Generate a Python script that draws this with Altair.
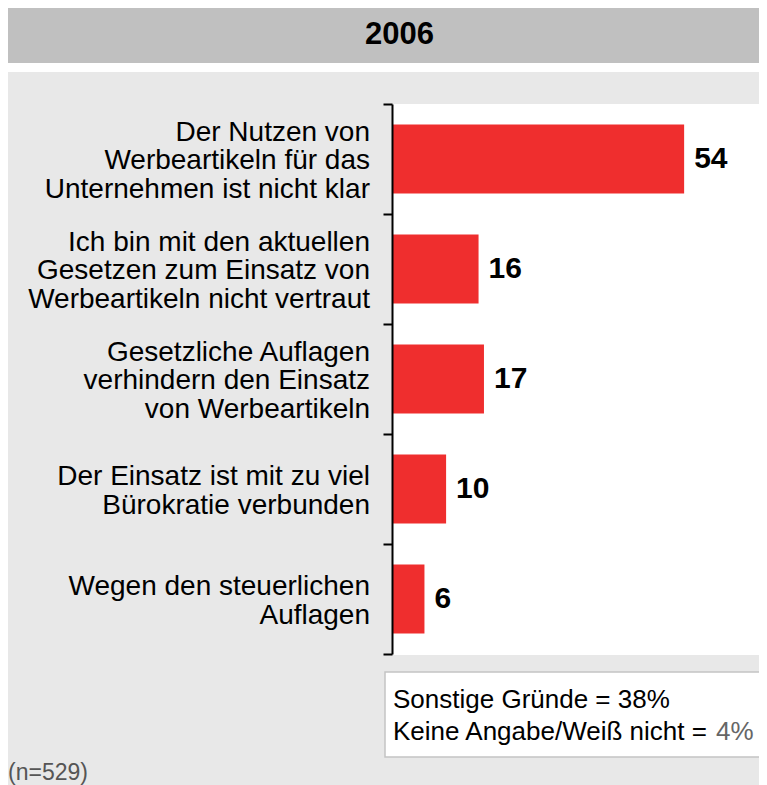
import altair as alt
import pandas as pd

categories = [
    "Der Nutzen von|Werbeartikeln für das|Unternehmen ist nicht klar",
    "Ich bin mit den aktuellen|Gesetzen zum Einsatz von|Werbeartikeln nicht vertraut",
    "Gesetzliche Auflagen|verhindern den Einsatz|von Werbeartikeln",
    "Der Einsatz ist mit zu viel|Bürokratie verbunden",
    "Wegen den steuerlichen|Auflagen",
]
values = [54, 16, 17, 10, 6]
title_text = "2006"
note_line1 = "Sonstige Gründe = 38%"
note_line2 = "Keine Angabe/Weiß nicht = "
note_highlight = "4%"
sample_note = "(n=529)"

df = pd.DataFrame({"cat": categories, "val": values})
one = pd.DataFrame({"d": [0]})

FONT = "Liberation Sans"
W, H = 367, 550
LABEL_SIZE = 28
LINE_H = 28.3


def rect(x, x2, y, y2, fill, **kw):
    return alt.Chart(one).mark_rect(fill=fill, **kw).encode(
        x=alt.value(x), x2=alt.value(x2), y=alt.value(y), y2=alt.value(y2)
    )


def label(text, x, y, size, align="left", baseline="alphabetic", bold=False, color="black"):
    return alt.Chart(pd.DataFrame({"t": [text]})).mark_text(
        font=FONT, fontSize=size, align=align, baseline=baseline,
        fontWeight="bold" if bold else "normal", color=color,
    ).encode(x=alt.value(x), y=alt.value(y), text="t:N")


bg_light = rect(-384, W, -32, 681, "#e8e8e8")
bg_title = rect(-384, W, -96, -41, "#c0c0c0")
bg_plot = rect(0, W, 0, 551, "white")
note_box = rect(-7, W + 5, 568, 653, "white", stroke="#c4c4c4", strokeWidth=1.5)

y_enc = alt.Y(
    "cat:N", sort=categories,
    scale=alt.Scale(paddingInner=0, paddingOuter=0),
    axis=alt.Axis(
        title=None, labels=False,
        tickBand="extent", tickSize=9, tickWidth=2, tickColor="black",
        domainColor="black", domainWidth=2, grid=False, zindex=1,
    ),
)
x_enc = alt.X("val:Q", scale=alt.Scale(domain=[0, 67.84], nice=False, zero=True), axis=None)

bars = alt.Chart(df).mark_bar(color="#ef2e2e", height=alt.RelativeBandSize(0.627)).encode(x=x_enc, y=y_enc)
vals = alt.Chart(df).mark_text(
    font=FONT, fontSize=30, fontWeight="bold", align="left", baseline="middle", dx=10, color="black"
).encode(x=x_enc, y=y_enc, text="val:Q")


def cat_labels(n_lines):
    return alt.Chart(df).transform_filter(
        f"length(split(datum.cat, '|')) == {n_lines}"
    ).mark_text(
        font=FONT, fontSize=LABEL_SIZE, lineHeight=LINE_H, lineBreak="|",
        align="right", baseline="middle", color="black",
        dy=-(n_lines - 1) * LINE_H / 2 + 2.5,
    ).encode(x=alt.value(-22), y=y_enc, text="cat:N")


labels3 = cat_labels(3)
labels2 = cat_labels(2)

title = label(title_text, 7.5, -69, 31, align="center", baseline="middle", bold=True)
line1 = label(note_line1, 1, 604, 26)
line2 = label(note_line2, 1, 636, 26)
line2b = label(note_highlight, 324, 636, 26, color="#666666")
nnote = label(sample_note, -384, 676, 23, color="#555555")

chart = alt.layer(
    bg_light, bg_title, bg_plot, note_box, bars, vals, labels3, labels2,
    title, line1, line2, line2b, nnote
).properties(
    width=W, height=H,
    autosize=alt.AutoSizeParams(type="none"),
    padding={"left": 384, "top": 96, "right": 0, "bottom": 131},
    background="white",
).configure_view(stroke=None)

chart.save("out.html", embed_options={"renderer": "svg", "actions": False})
